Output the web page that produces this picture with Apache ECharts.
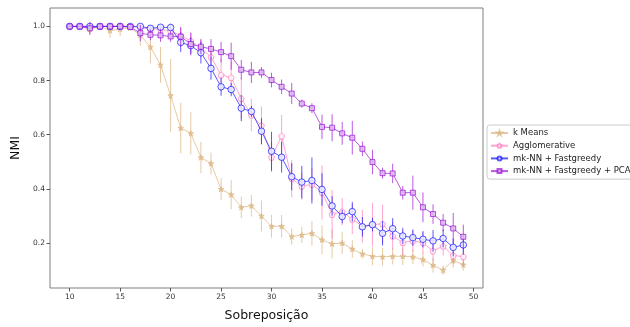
<!DOCTYPE html>
<html><head><meta charset="utf-8">
<script src="https://cdn.jsdelivr.net/npm/echarts@6/dist/echarts.min.js"></script>
<style>html,body{margin:0;padding:0;background:#fff}#c{width:630px;height:327px}</style>
</head><body><div id="c"></div>
<script>
const xs = [10,11,12,13,14,15,16,17,18,19,20,21,22,23,24,25,26,27,28,29,30,31,32,33,34,35,36,37,38,39,40,41,42,43,44,45,46,47,48,49];
const kmeans = [1.0,1.0,0.99,1.0,0.985,0.99,0.995,0.968,0.924,0.858,0.745,0.625,0.605,0.516,0.494,0.399,0.379,0.332,0.338,0.30,0.262,0.262,0.224,0.23,0.236,0.212,0.197,0.20,0.178,0.16,0.151,0.149,0.151,0.151,0.149,0.139,0.118,0.10,0.136,0.12];
const kmeansErr = [0.003,0.005,0.02,0.005,0.027,0.025,0.01,0.04,0.06,0.066,0.135,0.093,0.078,0.058,0.04,0.04,0.054,0.04,0.04,0.057,0.042,0.042,0.03,0.03,0.045,0.054,0.054,0.04,0.033,0.018,0.033,0.033,0.03,0.032,0.027,0.025,0.027,0.018,0.027,0.022];
const agglo = [1.0,1.0,1.0,1.0,1.0,1.0,1.0,0.995,0.99,0.99,0.982,0.967,0.947,0.92,0.887,0.821,0.811,0.734,0.673,0.634,0.517,0.595,0.438,0.41,0.417,0.387,0.306,0.316,0.288,0.262,0.268,0.271,0.226,0.202,0.208,0.201,0.171,0.189,0.154,0.15];
const aggloErr = [0.005,0.005,0.005,0.005,0.005,0.005,0.005,0.01,0.015,0.015,0.03,0.027,0.03,0.035,0.04,0.06,0.06,0.075,0.06,0.07,0.055,0.078,0.069,0.05,0.06,0.1,0.09,0.05,0.055,0.06,0.08,0.07,0.05,0.045,0.04,0.04,0.04,0.035,0.03,0.035];
const mknn = [1.0,1.0,1.0,1.0,1.0,1.0,1.0,1.0,0.993,0.997,0.996,0.941,0.929,0.903,0.845,0.777,0.767,0.698,0.686,0.613,0.539,0.517,0.445,0.425,0.431,0.398,0.337,0.298,0.316,0.26,0.268,0.236,0.253,0.226,0.22,0.214,0.208,0.217,0.184,0.193];
const mknnErr = [0.004,0.004,0.004,0.004,0.004,0.004,0.004,0.004,0.01,0.006,0.008,0.036,0.03,0.04,0.042,0.033,0.025,0.048,0.02,0.048,0.072,0.057,0.05,0.06,0.085,0.06,0.036,0.025,0.036,0.036,0.025,0.045,0.039,0.03,0.03,0.03,0.04,0.033,0.033,0.036];
const mknnPca = [1.0,1.0,0.993,1.0,1.0,1.0,0.998,0.975,0.969,0.967,0.963,0.962,0.935,0.925,0.917,0.905,0.89,0.84,0.83,0.83,0.802,0.777,0.752,0.715,0.698,0.629,0.626,0.605,0.589,0.548,0.499,0.458,0.457,0.386,0.386,0.332,0.307,0.275,0.254,0.223];
const mknnPcaErr = [0.003,0.003,0.024,0.005,0.005,0.005,0.01,0.03,0.02,0.024,0.02,0.036,0.042,0.027,0.036,0.038,0.05,0.036,0.039,0.02,0.027,0.027,0.039,0.015,0.018,0.045,0.05,0.042,0.062,0.027,0.045,0.02,0.036,0.025,0.063,0.055,0.036,0.032,0.057,0.045];
const names = ['k Means','Agglomerative','mk-NN + Fastgreedy','mk-NN + Fastgreedy + PCA'];
const xTicks = [10,15,20,25,30,35,40,45,50];
const yTicks = [0.2,0.4,0.6,0.8,1.0];

const FONT = 'DejaVu Sans';
const star = 'path://M0,-1 L0.225,-0.309 L0.951,-0.309 L0.363,0.118 L0.588,0.809 L0,0.382 L-0.588,0.809 L-0.363,0.118 L-0.951,-0.309 L-0.225,-0.309 Z';
const pent = 'path://M0,-1 L0.951,-0.309 L0.588,0.809 L-0.588,0.809 L-0.951,-0.309 Z';
const styles = [
  {color:'rgba(222,184,135,0.75)', fill:'rgba(222,184,135,0.75)', symbol:star, size:5.5},
  {color:'rgba(255,105,180,0.6)', fill:'rgba(255,240,248,0.9)', symbol:pent, size:6},
  {color:'rgba(0,0,255,0.65)', fill:'rgba(235,235,255,0.9)', symbol:'circle', size:6.5},
  {color:'rgba(148,0,211,0.65)', fill:'rgba(220,190,240,0.9)', symbol:'rect', size:5}
];
const vals = [kmeans, agglo, mknn, mknnPca];
const errs = [kmeansErr, aggloErr, mknnErr, mknnPcaErr];

const series = [];
vals.forEach((v, i) => {
  const st = styles[i];
  series.push({
    type:'custom', name:'err'+i, z: 2 + i*2, silent:true,
    data: xs.map((x,j)=>[x, v[j]-errs[i][j], v[j]+errs[i][j]]),
    encode:{x:0, y:[1,2]},
    renderItem: function(params, api){
      const p1 = api.coord([api.value(0), api.value(1)]);
      const p2 = api.coord([api.value(0), api.value(2)]);
      return {type:'line', shape:{x1:p1[0],y1:p1[1],x2:p2[0],y2:p2[1]}, style:{stroke:st.color, lineWidth:1}};
    }
  });
  series.push({
    type:'line', name:names[i], z: 3 + i*2,
    data: xs.map((x,j)=>[x, v[j]]),
    symbol: st.symbol, symbolSize: st.size, showAllSymbol:true,
    lineStyle:{color:st.color, width:1},
    itemStyle:{color:st.fill, borderColor:st.color, borderWidth:1},
    animation:false
  });
});

const chart = echarts.init(document.getElementById('c'), null, {renderer:'canvas'});
chart.setOption({
  animation:false,
  backgroundColor:'#fff',
  textStyle:{fontFamily:FONT},
  grid:{left:50, right:147, top:8, bottom:32, show:true, borderColor:'#7f7f7f', borderWidth:1, backgroundColor:'transparent'},
  xAxis:{
    type:'value', min:8.05, max:50.95,
    name:'Sobreposição', nameLocation:'middle', nameGap:21,
    nameTextStyle:{fontSize:12.5, color:'#111', fontFamily:FONT},
    axisLine:{show:false},
    axisTick:{show:true, length:3.5, lineStyle:{color:'#555'}, customValues:xTicks},
    axisLabel:{fontSize:7.5, color:'#333', margin:5, customValues:xTicks, fontFamily:FONT},
    splitLine:{show:false}
  },
  yAxis:{
    type:'value', min:0.034, max:1.068,
    name:'NMI', nameLocation:'middle', nameGap:23, nameRotate:90,
    nameTextStyle:{fontSize:12.5, color:'#111', fontFamily:FONT},
    axisLine:{show:false},
    axisTick:{show:true, length:3.5, lineStyle:{color:'#555'}, customValues:yTicks},
    axisLabel:{fontSize:7.5, color:'#333', margin:5, customValues:yTicks, fontFamily:FONT, formatter:v=>v.toFixed(1)},
    splitLine:{show:false}
  },
  legend:{
    show:true, data:names, orient:'vertical', left:487, top:125,
    backgroundColor:'rgba(255,255,255,0.9)', borderColor:'#cccccc', borderWidth:1, borderRadius:3,
    padding:[3,6,3,3], itemWidth:17, itemHeight:5, itemGap:2.7,
    textStyle:{fontSize:8.5, lineHeight:10, color:'#222', fontFamily:FONT}
  },
  series: series
});
</script>
</body></html>
